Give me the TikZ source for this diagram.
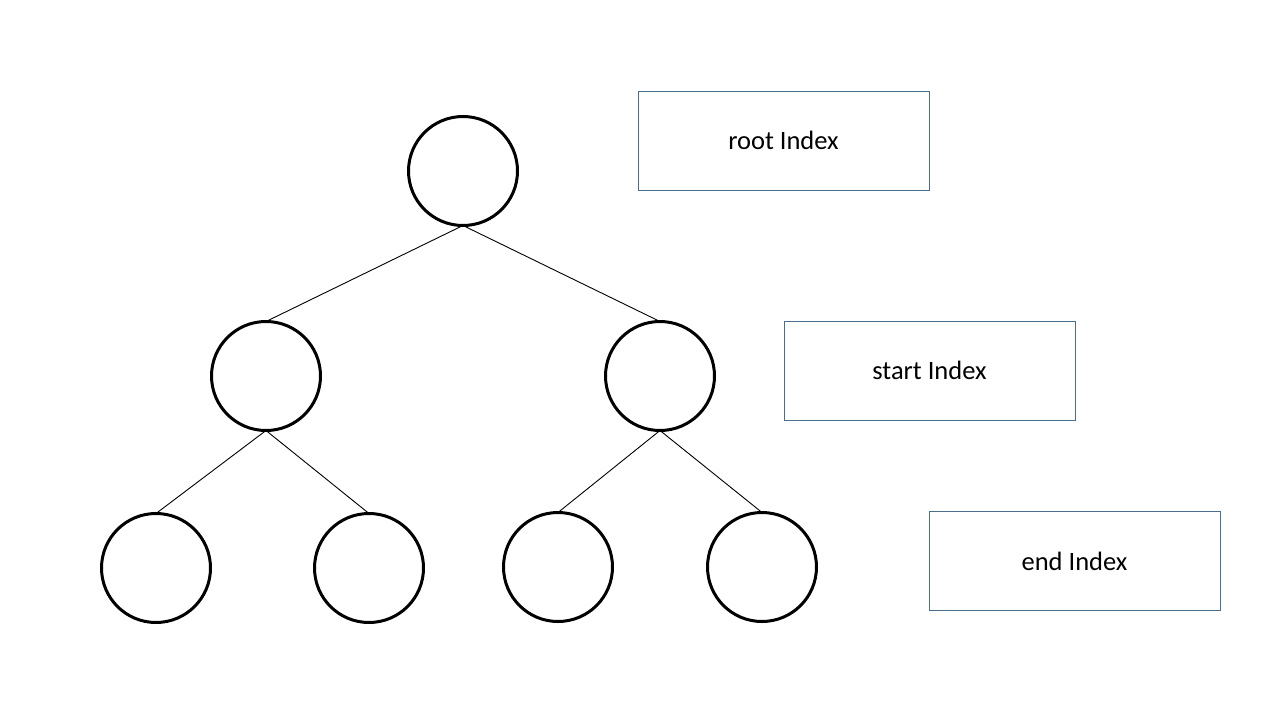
\documentclass[tikz,border=0pt]{standalone}
\usepackage{fontspec}
\setmainfont{Carlito}
\definecolor{boxline}{HTML}{4A6F8E}
\begin{document}
\begin{tikzpicture}[x=1pt,y=-1pt,
  tnode/.style={circle,draw=black,line width=3pt,minimum size=109pt,inner sep=0pt,outer sep=0pt},
  ibox/.style={rectangle,draw=boxline,line width=1pt,minimum width=291pt,minimum height=99pt,font=\fontsize{26.5}{30}\selectfont},
  edge/.style={draw=black,line width=0.9pt}]
\useasboundingbox[fill=white] (0,0) rectangle (1280,720);
\node[tnode] (r) at (463,171) {};
\node[tnode] (a) at (266,376) {};
\node[tnode] (b) at (660,376) {};
\node[tnode] (a1) at (156,568) {};
\node[tnode] (a2) at (369,568) {};
\node[tnode] (b1) at (558,567) {};
\node[tnode] (b2) at (762,567) {};
\path[edge] (r.south) -- (a.north);
\path[edge] (r.south) -- (b.north);
\path[edge] (a.south) -- (a1.north);
\path[edge] (a.south) -- (a2.north);
\path[edge] (b.south) -- (b1.north);
\path[edge] (b.south) -- (b2.north);
\node[ibox] (ri) at (783.5,140.5) {root Index};
\node[ibox] (si) at (929.5,370.5) {start Index};
\node[ibox] (ei) at (1074.5,561) {end Index};
\end{tikzpicture}
\end{document}
